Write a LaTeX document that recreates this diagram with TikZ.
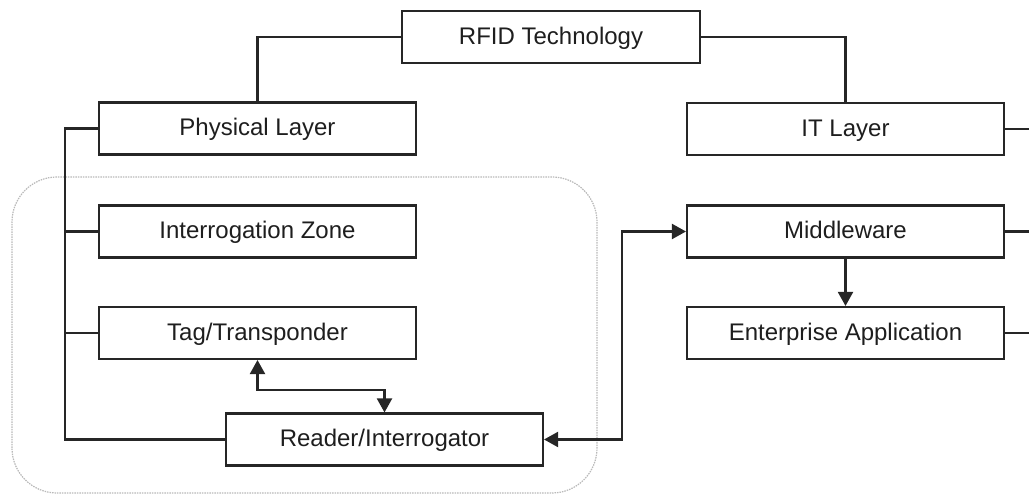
\documentclass[tikz,border=0pt]{standalone}
\usepackage{fontspec}
\setmainfont{Liberation Sans}
\usetikzlibrary{arrows.meta}
\definecolor{ink}{HTML}{262626}
\definecolor{txt}{HTML}{1E1E1E}
\tikzset{
  x=1pt, y=1pt,
  box/.style={draw=ink, line width=2.1pt, fill=white, inner sep=0pt,
    minimum width=317pt, minimum height=52pt, text=txt,
    text height=17.2pt, text depth=2.5pt,
    font=\fontsize{24}{28}\selectfont},
  link/.style={draw=ink, line width=2.1pt},
  tip/.style={-{Triangle[length=14pt,width=15pt]}},
  bitip/.style={{Triangle[length=14pt,width=15pt]}-{Triangle[length=14pt,width=15pt]}},
  zone/.style={draw=gray!55, line width=1.2pt, dash pattern=on 1.5pt off 1pt,
    rounded corners=45pt}
}
\begin{document}
\begin{tikzpicture}
\useasboundingbox (0,0) rectangle (1029,494);

% physical-layer zone outline
\draw[zone] (12,1) rectangle (597,317);

% nodes
\node[box, minimum width=298pt] (rfid) at (551,457) {RFID Technology};
\node[box] (phys)   at (257.5,365.5) {Physical Layer};
\node[box] (itl)    at (845.5,365)   {IT Layer};
\node[box] (iz)     at (257.5,262.5) {Interrogation Zone};
\node[box] (tag)    at (257.5,161)   {Tag/Transponder};
\node[box] (reader) at (384.5,54.5)  {Reader/Interrogator};
\node[box] (mw)     at (845.5,262.5) {Middleware};
\node[box] (ea)     at (845.5,161)   {Enterprise Application};

% tree from the root
\draw[link] (rfid.west) -| (phys.north);
\draw[link] (rfid.east) -| (itl.north);

% physical-layer trunk
\coordinate (trunk) at (65,365.5);
\draw[link] (phys.west) -- (trunk) |- (reader.west);
\draw[link] (iz.west) -- (iz.west -| trunk);
\draw[link] (tag.west) -- (tag.west -| trunk);

% tag <-> reader
\draw[link, bitip] (tag.south) -- ++(0,-30) -| (reader.north);

% reader <-> middleware
\draw[link, bitip] (reader.east) -- ++(78,0) |- (mw.west);

% middleware -> enterprise application
\draw[link, tip] (mw.south) -- (ea.north);

% IT-layer stubs to the right edge
\coordinate (itR) at (1029,365);
\coordinate (mwR) at (1029,262.5);
\coordinate (eaR) at (1029,161);
\draw[link] (itl.east) -- (itR);
\draw[link] (mw.east) -- (mwR);
\draw[link] (ea.east) -- (eaR);
\end{tikzpicture}
\end{document}
